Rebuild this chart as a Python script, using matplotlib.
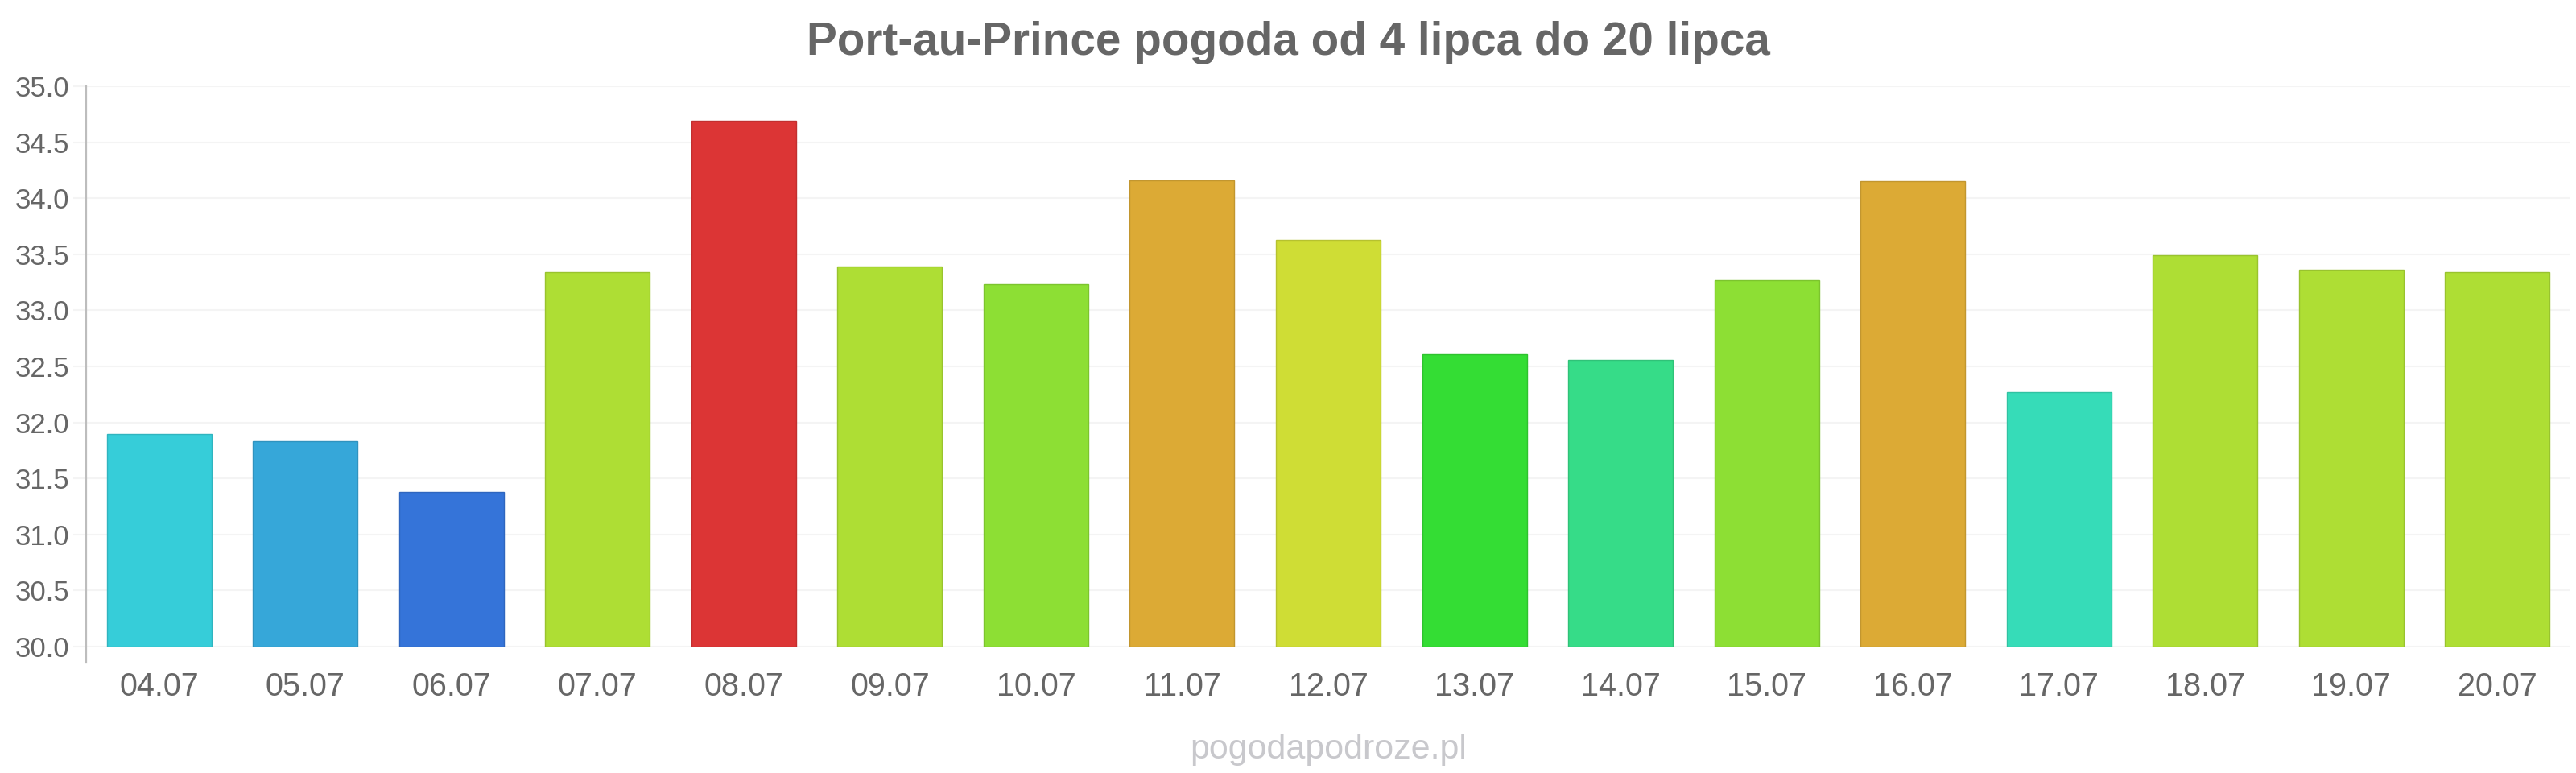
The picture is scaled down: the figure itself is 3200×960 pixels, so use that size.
#!/usr/bin/env python3
"""
Port-au-Prince - prognoza temperatury 04.07-20.07 (wykres słupkowy).
"""
import matplotlib
matplotlib.use("Agg")
import matplotlib.pyplot as plt
import matplotlib.colors as mcolors
from matplotlib.lines import Line2D

days = ["04.07", "05.07", "06.07", "07.07", "08.07", "09.07", "10.07", "11.07", "12.07",
        "13.07", "14.07", "15.07", "16.07", "17.07", "18.07", "19.07", "20.07"]
temps = [31.90, 31.83, 31.38, 33.34, 34.69, 33.39, 33.23, 34.16, 33.63,
         32.61, 32.56, 33.27, 34.15, 32.27, 33.49, 33.36, 33.34]
bar_colors = ["#36cdd9", "#36a7d9", "#3574d9", "#aede34", "#dc3535", "#aede34", "#8ddf34",
              "#dcaa35", "#cfdd35", "#34dd34", "#36dc88", "#8ddf34", "#dcaa35", "#36dcb8",
              "#aede34", "#aede34", "#aede34"]
y_ticks = [30.0, 30.5, 31.0, 31.5, 32.0, 32.5, 33.0, 33.5, 34.0, 34.5, 35.0]

TEXT = "#666666"
plt.rcParams["font.family"] = ["Liberation Sans", "DejaVu Sans"]

W, H = 3200, 960
fig = plt.figure(figsize=(W / 100, H / 100), dpi=100)
ax = fig.add_axes([107 / W, 157 / H, (3193 - 107) / W, (803 - 107) / H])


def darker(c, f=0.88):
    r, g, b = mcolors.to_rgb(c)
    return (r * f, g * f, b * f)


x = list(range(len(days)))
ax.bar(x, [t - 30 for t in temps], bottom=30, width=0.716, color=bar_colors,
       edgecolor=[darker(c) for c in bar_colors], linewidth=1.0, zorder=3)

ax.set_xlim(-0.5, len(days) - 0.5)
ax.set_ylim(30, 35)
ax.set_yticks(y_ticks)
ax.set_yticklabels([f"{v:.1f}" for v in y_ticks])
ax.set_xticks(x)
ax.set_xticklabels(days)

ax.grid(axis="y", color="#f4f4f4", linewidth=1.5, zorder=0)
ax.tick_params(axis="y", length=11.5, width=1.5, color="#f4f4f4", pad=3.5,
               labelsize=25, labelcolor=TEXT)
ax.tick_params(axis="x", length=0, pad=22, labelsize=28.5, labelcolor=TEXT)

for s in ["top", "right", "bottom", "left"]:
    ax.spines[s].set_visible(False)
# lewa oś wystaje trochę pod linię 30.0
ax.add_line(Line2D([0, 0], [29.856, 35], transform=ax.get_yaxis_transform(),
                   color="#bdbdbd", linewidth=1.6, clip_on=False, zorder=4))

fig.text(0.5, 1 - 53 / H, "Port-au-Prince pogoda od 4 lipca do 20 lipca",
         ha="center", va="center", fontsize=40.8, fontweight="bold", color=TEXT)
fig.text(1650 / W, 1 - 942 / H, "pogodapodroze.pl", ha="center", va="baseline",
         fontsize=31, color="#c8c8cc")

fig.savefig("out.png", dpi=100)
